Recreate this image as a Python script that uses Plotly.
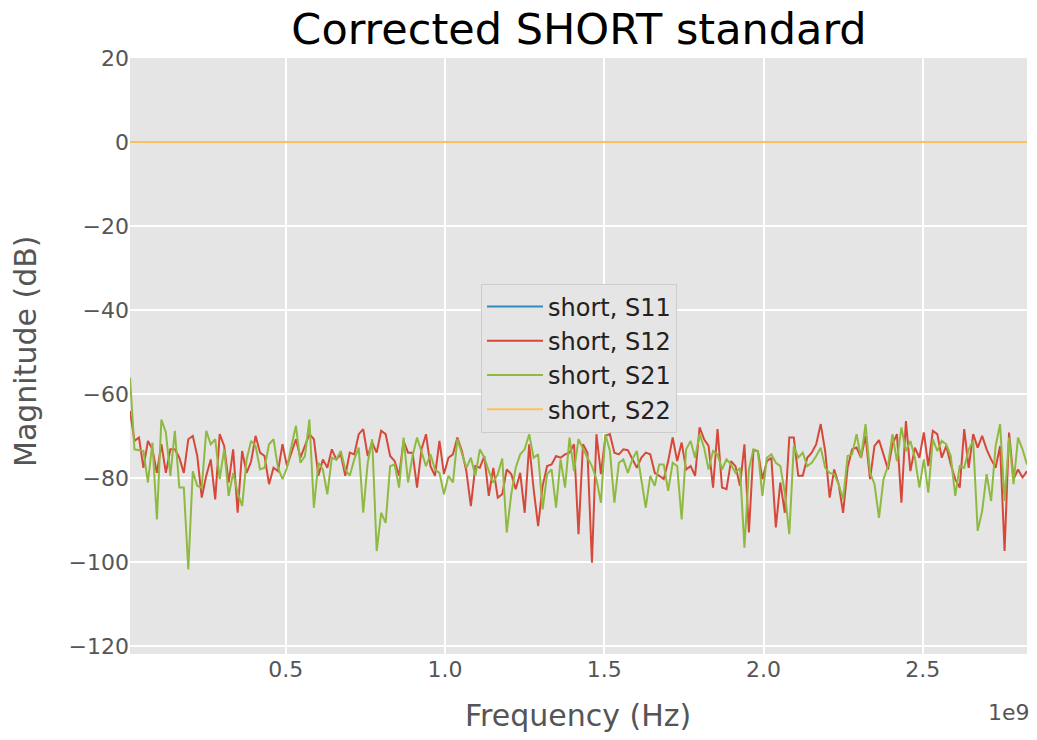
import numpy as np
import plotly.graph_objects as go

# ---------------- data ----------------
f_start_hz = 0.011e9
f_stop_hz = 2.827e9

s12_db = [
    -64.0, -71.1, -70.3, -77.5, -71.1, -73.1, -78.7, -71.9, -78.7, -73.1,
    -73.1, -75.1, -78.7, -70.7, -69.9, -74.7, -84.6, -79.4, -75.5, -85.0,
    -69.5, -72.3, -81.0, -73.1, -88.2, -73.5, -78.7, -76.0, -69.9, -73.9,
    -74.7, -81.4, -77.5, -78.3, -71.9, -77.1, -73.9, -70.7, -75.1, -72.3,
    -69.5, -70.7, -79.4, -75.5, -77.5, -73.1, -75.5, -74.3, -79.4, -73.9,
    -74.3, -69.5, -68.3, -74.7, -71.5, -73.9, -68.7, -69.5, -74.7, -75.9,
    -79.4, -71.1, -73.9, -73.9, -82.2, -73.1, -69.5, -77.1, -79.4, -71.1,
    -79.0, -75.1, -74.3, -70.3, -73.5, -78.3, -86.6, -77.1, -77.5, -74.7,
    -84.2, -77.5, -84.6, -83.8, -77.9, -79.0, -82.6, -78.7, -88.2, -71.9,
    -82.6, -91.4, -81.8, -77.1, -76.7, -74.7, -75.1, -74.3, -73.9, -71.9,
    -93.3, -71.9, -73.9, -100.1, -69.5, -79.0, -69.9, -69.5, -73.9, -74.3,
    -73.1, -73.3, -75.5, -77.5, -75.1, -73.9, -74.3, -78.7, -79.4, -80.2,
    -75.9, -70.3, -75.9, -71.5, -77.9, -77.1, -79.4, -67.9, -70.7, -72.3,
    -82.2, -68.3, -82.2, -82.6, -75.9, -77.1, -81.8, -71.9, -92.9, -73.3,
    -73.5, -80.2, -75.9, -75.1, -91.7, -81.0, -88.2, -70.3, -70.3, -79.4,
    -79.4, -75.1, -73.9, -71.9, -67.1, -73.5, -84.6, -77.9, -81.4, -88.2,
    -77.5, -73.1, -72.7, -75.1, -69.9, -80.2, -72.3, -70.9, -74.3, -77.9,
    -71.9, -69.5, -85.8, -66.4, -78.3, -72.7, -75.1, -69.1, -77.1, -68.7,
    -69.5, -75.1, -72.3, -76.7, -80.2, -82.2, -68.3, -77.5, -69.5, -72.7,
    -69.9, -73.1, -75.5, -77.5, -72.3, -97.3, -69.1, -80.2, -77.9, -79.8,
    -78.3,
]

s21_db = [
    -56.0, -73.1, -73.3, -73.5, -81.0, -71.5, -89.8, -66.0, -69.1, -79.4,
    -68.7, -82.2, -82.2, -101.7, -78.3, -81.8, -82.2, -68.7, -71.9, -70.7,
    -80.2, -73.1, -84.2, -78.7, -83.4, -86.6, -75.5, -71.1, -72.3, -77.9,
    -77.5, -71.9, -70.7, -77.5, -80.2, -77.5, -72.3, -67.5, -76.3, -74.7,
    -66.0, -87.0, -76.3, -77.9, -83.8, -75.1, -75.5, -73.5, -77.9, -79.4,
    -75.5, -72.7, -88.2, -76.3, -70.7, -97.3, -88.2, -90.6, -77.1, -76.7,
    -82.2, -70.3, -81.0, -74.7, -70.3, -73.9, -77.1, -74.3, -77.9, -78.7,
    -83.8, -79.4, -81.0, -70.7, -73.9, -77.5, -75.1, -79.4, -73.1, -75.1,
    -78.3, -81.0, -79.0, -75.3, -92.9, -83.8, -77.5, -74.3, -73.1, -69.5,
    -75.1, -74.3, -87.4, -79.0, -77.9, -87.0, -75.5, -82.2, -70.3, -78.3,
    -70.7, -73.1, -75.1, -77.1, -80.2, -85.8, -69.5, -73.5, -85.8, -76.3,
    -75.5, -78.7, -75.5, -73.5, -79.8, -87.0, -79.4, -81.8, -76.7, -76.7,
    -83.0, -76.3, -77.1, -89.8, -73.1, -71.1, -75.1, -69.5, -72.7, -77.9,
    -73.5, -74.3, -77.9, -75.5, -76.7, -78.7, -77.5, -96.5, -77.9, -73.1,
    -73.5, -84.2, -75.1, -74.3, -76.3, -77.1, -83.4, -93.3, -72.3, -75.1,
    -73.9, -77.1, -76.3, -74.7, -72.7, -77.5, -78.7, -79.0, -81.4, -85.0,
    -74.7, -74.3, -69.5, -75.1, -67.1, -78.7, -81.4, -89.4, -80.2, -77.1,
    -69.5, -75.9, -67.9, -73.5, -71.1, -75.1, -82.2, -75.5, -83.4, -70.7,
    -73.5, -71.1, -71.9, -74.7, -84.2, -77.1, -77.5, -73.1, -71.1, -92.5,
    -87.8, -79.0, -85.4, -72.3, -67.1, -85.4, -70.3, -81.4, -70.3, -73.1,
    -76.7,
]

n_pts = len(s12_db)
freq_hz = np.linspace(f_start_hz, f_stop_hz, n_pts)
s11_db = [0.0] * n_pts   # flat at 0 dB in the reference
s22_db = [0.0] * n_pts   # flat at 0 dB in the reference

series_names = ["short, S11", "short, S12", "short, S21", "short, S22"]
series_vals = [s11_db, s12_db, s21_db, s22_db]
series_colors = ["#348ABD", "#D6493A", "#8EBA42", "#FBC15E"]

x_tick_vals = [0.5e9, 1.0e9, 1.5e9, 2.0e9, 2.5e9]
x_tick_text = ["0.5", "1.0", "1.5", "2.0", "2.5"]
y_tick_vals = [-120, -100, -80, -60, -40, -20, 0, 20]
y_tick_text = ["\u2212120", "\u2212100", "\u221280", "\u221260", "\u221240", "\u221220", "0", "20"]

# ---------------- figure ----------------
FONT = "DejaVu Sans"
GRAY = "#555555"
W, H = 1037, 740
ML, MR, MT, MB = 130, 10, 58, 86
PW, PH = W - ML - MR, H - MT - MB


def px_x(px):
    return (px - ML) / PW


def px_y(py):
    return (H - MB - py) / PH


fig = go.Figure()
for name, vals, col in zip(series_names, series_vals, series_colors):
    fig.add_trace(go.Scatter(x=freq_hz, y=vals, mode="lines", name=name,
                             line=dict(color=col, width=2)))

fig.update_layout(
    width=W, height=H,
    margin=dict(l=ML, r=MR, t=MT, b=MB),
    paper_bgcolor="white",
    plot_bgcolor="#E5E5E5",
    font=dict(family=FONT, size=22, color=GRAY),
    title=dict(text="Corrected SHORT standard", x=579 / W,
               xanchor="center", y=1 - 29 / H, yanchor="middle", yref="container",
               font=dict(family=FONT, size=43, color="black")),
    showlegend=True,
    legend=dict(x=px_x(579), y=px_y(358), xanchor="center", yanchor="middle",
                bgcolor="#E5E5E5", bordercolor="#CCCCCC", borderwidth=1,
                itemwidth=56, entrywidth=200,
                font=dict(family=FONT, size=24, color="#222222")),
)
fig.update_xaxes(
    range=[f_start_hz, f_stop_hz],
    tickmode="array", tickvals=x_tick_vals, ticktext=x_tick_text,
    showgrid=True, gridcolor="white", gridwidth=1.5,
    zeroline=False, showline=False, ticks="", automargin=False,
    tickfont=dict(family=FONT, size=22, color=GRAY),
)
fig.update_yaxes(
    range=[-121.8, 20],
    tickmode="array", tickvals=y_tick_vals, ticktext=y_tick_text,
    showgrid=True, gridcolor="white", gridwidth=1.5,
    zeroline=False, showline=False, ticks="", automargin=False,
    tickfont=dict(family=FONT, size=22, color=GRAY),
)
# axis titles and offset text
fig.add_annotation(text="Frequency (Hz)", xref="paper", yref="paper",
                   x=px_x(578), y=px_y(715), xanchor="center", yanchor="middle",
                   showarrow=False, font=dict(family=FONT, size=30, color=GRAY))
fig.add_annotation(text="Magnitude (dB)", xref="paper", yref="paper",
                   x=px_x(25), y=px_y(351), xanchor="center", yanchor="middle",
                   textangle=-90, showarrow=False,
                   font=dict(family=FONT, size=30, color=GRAY))
fig.add_annotation(text="1e9", xref="paper", yref="paper",
                   x=px_x(1032), y=px_y(712), xanchor="right", yanchor="middle",
                   showarrow=False, font=dict(family=FONT, size=22, color=GRAY))

fig.write_html("out.html",
               config={"displayModeBar": False},
               post_script="document.body.style.margin='0px';"
                           "document.documentElement.style.overflow='hidden';")
